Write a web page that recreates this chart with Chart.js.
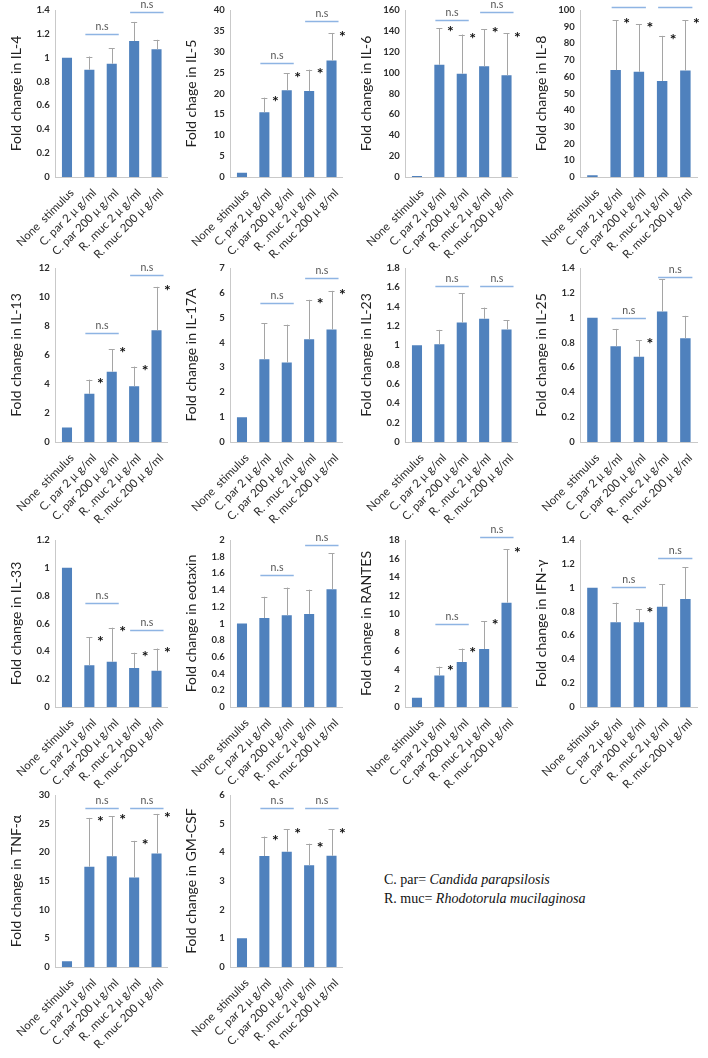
<!DOCTYPE html>
<html>
<head>
<meta charset="utf-8">
<script src="https://cdn.jsdelivr.net/npm/chart.js@4.4.1/dist/chart.umd.min.js"></script>
<style>
  body { margin: 0; background: #fff; }
  #board { position: relative; width: 708px; height: 1058px; }
  #board canvas { position: absolute; }
  .key { position: absolute; left: 384px; top: 870px; font-family: "Liberation Serif", serif; font-size: 14px; line-height: 19px; color: #111; }
</style>
</head>
<body>
<div id="board">
  <div class="key">C. par= <i>Candida parapsilosis</i><br>R. muc= <i>Rhodotorula mucilaginosa</i></div>
</div>
<script>
// x categories shared by every panel
const categories = ['None  stimulus', 'C. par 2 μ g/ml', 'C. par 200 μ g/ml', 'R. .muc 2 μ g/ml', 'R. muc 200 μ g/ml'];

// bar heights (fold change) and tops of the error bars, one pair per cytokine
const il4 = [1, 0.90, 0.95, 1.14, 1.07];
const il4Err = [1, 1.01, 1.08, 1.30, 1.15];
const il5 = [1, 15.5, 20.8, 20.6, 27.9];
const il5Err = [1, 19.0, 24.8, 25.7, 34.5];
const il6 = [1, 107.5, 99, 106, 97.5];
const il6Err = [1, 142.5, 136.5, 141.5, 137.5];
const il8 = [1, 64, 63, 57.5, 63.8];
const il8Err = [1, 94, 91.5, 84.5, 94];
const il13 = [1, 3.32, 4.85, 3.85, 7.7];
const il13Err = [1, 4.3, 6.4, 5.2, 10.7];
const il17a = [1, 3.33, 3.2, 4.13, 4.53];
const il17aErr = [1, 4.77, 4.72, 5.72, 6.08];
const il23 = [1, 1.01, 1.235, 1.275, 1.165];
const il23Err = [1, 1.16, 1.54, 1.39, 1.26];
const il25 = [1, 0.77, 0.685, 1.05, 0.835];
const il25Err = [1, 0.91, 0.82, 1.31, 1.015];
const il33 = [1, 0.30, 0.325, 0.28, 0.26];
const il33Err = [1, 0.50, 0.57, 0.39, 0.42];
const eotaxin = [1, 1.065, 1.10, 1.115, 1.41];
const eotaxinErr = [1, 1.32, 1.43, 1.405, 1.84];
const rantes = [1, 3.4, 4.85, 6.25, 11.25];
const rantesErr = [1, 4.35, 6.3, 9.25, 17.0];
const ifng = [1, 0.71, 0.71, 0.84, 0.905];
const ifngErr = [1, 0.875, 0.82, 1.03, 1.17];
const tnfa = [1, 17.5, 19.3, 15.6, 19.8];
const tnfaErr = [1, 26, 26.3, 22, 26.7];
const gmcsf = [1, 3.87, 4.02, 3.55, 3.88];
const gmcsfErr = [1, 4.55, 4.8, 4.3, 4.8];

// significance stars per bar (1 = "*")
const starsNone = [0, 0, 0, 0, 0];
const starsAll = [0, 1, 1, 1, 1];
const starsC200 = [0, 0, 1, 0, 0];
const starsR = [0, 0, 0, 1, 1];

// height of the "n.s" brackets: [C. par pair, R. muc pair]
const il4Ns = [1.2, 1.38];
const il5Ns = [27.3, 37.4];
const il6Ns = [150, 158];
const il8Ns = [102, 102];
const il13Ns = [7.5, 11.5];
const il17aNs = [5.58, 6.58];
const il23Ns = [1.61, 1.61];
const il25Ns = [1.0, 1.33];
const il33Ns = [0.75, 0.555];
const eotaxinNs = [1.58, 1.94];
const rantesNs = [8.95, 18.3];
const ifngNs = [1.01, 1.245];
const tnfaNs = [27.7, 27.7];
const gmcsfNs = [5.55, 5.55];

// y axis ranges: [max, step]
const il4Axis = [1.4, 0.2];
const il5Axis = [40, 5];
const il6Axis = [160, 20];
const il8Axis = [100, 10];
const il13Axis = [12, 2];
const il17aAxis = [7, 1];
const il23Axis = [1.8, 0.2];
const il25Axis = [1.4, 0.2];
const il33Axis = [1.2, 0.2];
const eotaxinAxis = [2, 0.2];
const rantesAxis = [18, 2];
const ifngAxis = [1.4, 0.2];
const tnfaAxis = [30, 5];
const gmcsfAxis = [6, 1];

const panels = [
  { title: 'Fold change in IL-4', mean: il4, err: il4Err, stars: starsNone, ns: il4Ns, axis: il4Axis, col: 0, row: 0 },
  { title: 'Fold chage in IL-5', mean: il5, err: il5Err, stars: starsAll, ns: il5Ns, axis: il5Axis, col: 1, row: 0 },
  { title: 'Fold change in IL-6', mean: il6, err: il6Err, stars: starsAll, ns: il6Ns, axis: il6Axis, col: 2, row: 0 },
  { title: 'Fold change in IL-8', mean: il8, err: il8Err, stars: starsAll, ns: il8Ns, axis: il8Axis, col: 3, row: 0, nsText: false },
  { title: 'Fold change in IL-13', mean: il13, err: il13Err, stars: starsAll, ns: il13Ns, axis: il13Axis, col: 0, row: 1 },
  { title: 'Fold change in IL-17A', mean: il17a, err: il17aErr, stars: starsR, ns: il17aNs, axis: il17aAxis, col: 1, row: 1 },
  { title: 'Fold change in IL-23', mean: il23, err: il23Err, stars: starsNone, ns: il23Ns, axis: il23Axis, col: 2, row: 1 },
  { title: 'Fold change in IL-25', mean: il25, err: il25Err, stars: starsC200, ns: il25Ns, axis: il25Axis, col: 3, row: 1 },
  { title: 'Fold change in IL-33', mean: il33, err: il33Err, stars: starsAll, ns: il33Ns, axis: il33Axis, col: 0, row: 2 },
  { title: 'Fold change in eotaxin', mean: eotaxin, err: eotaxinErr, stars: starsNone, ns: eotaxinNs, axis: eotaxinAxis, col: 1, row: 2 },
  { title: 'Fold change in RANTES', mean: rantes, err: rantesErr, stars: starsAll, ns: rantesNs, axis: rantesAxis, col: 2, row: 2 },
  { title: 'Fold change in IFN-γ', mean: ifng, err: ifngErr, stars: starsC200, ns: ifngNs, axis: ifngAxis, col: 3, row: 2 },
  { title: 'Fold change in TNF-α', mean: tnfa, err: tnfaErr, stars: starsAll, ns: tnfaNs, axis: tnfaAxis, col: 0, row: 3 },
  { title: 'Fold change in GM-CSF', mean: gmcsf, err: gmcsfErr, stars: starsAll, ns: gmcsfNs, axis: gmcsfAxis, col: 1, row: 3 }
];

// page layout
const colLeft = [0, 175, 350, 525];
const colWidth = [175, 175, 175, 183];
const rowPlotTop = [10, 268, 540, 795];
const rowPlotBottom = [177, 442, 707, 967];
const HEAD = 18, LABELS = 88, YAXIS = 50, PLOT_RIGHT = 172;

const BLUE = '#4f81bd';
const AXIS = '#c9c9c9';
const TEXT = '#2b2b2b';
const FONT = 'Lato, "Liberation Sans", sans-serif';

// error bars, stars and n.s brackets
const marks = {
  id: 'marks',
  afterDatasetsDraw(chart, args, opts) {
    const p = opts.panel;
    const ctx = chart.ctx;
    const y = chart.scales.y;
    const bars = chart.getDatasetMeta(0).data;
    ctx.save();
    bars.forEach((bar, i) => {
      const yt = y.getPixelForValue(p.err[i]);
      if (p.err[i] > p.mean[i]) {
        ctx.strokeStyle = '#a5a5a5';
        ctx.lineWidth = 1;
        ctx.beginPath();
        ctx.moveTo(Math.round(bar.x) + 0.5, bar.y);
        ctx.lineTo(Math.round(bar.x) + 0.5, yt);
        ctx.moveTo(bar.x - 3, Math.round(yt) + 0.5);
        ctx.lineTo(bar.x + 3, Math.round(yt) + 0.5);
        ctx.stroke();
      }
      if (p.stars[i]) {
        ctx.fillStyle = '#111';
        ctx.font = 'bold 16px ' + FONT;
        ctx.textAlign = 'center';
        ctx.textBaseline = 'middle';
        ctx.fillText('*', bar.x + 11, yt + 4);
      }
    });
    [[1, 2], [3, 4]].forEach(([a, b], k) => {
      const v = p.ns[k];
      const yl = Math.round(y.getPixelForValue(v)) + 0.5;
      const x1 = bars[a].x - 4, x2 = bars[b].x + 7;
      ctx.strokeStyle = '#8eb4e3';
      ctx.lineWidth = 1.5;
      ctx.beginPath();
      ctx.moveTo(x1, yl);
      ctx.lineTo(x2, yl);
      ctx.stroke();
      if (p.nsText !== false) {
        ctx.fillStyle = '#555';
        ctx.font = '10.5px ' + FONT;
        ctx.textAlign = 'center';
        ctx.textBaseline = 'bottom';
        ctx.fillText('n.s', (x1 + x2) / 2, yl - 3);
      }
    });
    ctx.restore();
  }
};

const board = document.getElementById('board');
panels.forEach(p => {
  const w = colWidth[p.col];
  const top = rowPlotTop[p.row] - HEAD;
  const h = rowPlotBottom[p.row] - top + LABELS;
  const canvas = document.createElement('canvas');
  canvas.width = w;
  canvas.height = h;
  canvas.style.left = colLeft[p.col] + 'px';
  canvas.style.top = top + 'px';
  board.appendChild(canvas);

  new Chart(canvas, {
    type: 'bar',
    data: {
      labels: categories,
      datasets: [{ data: p.mean, backgroundColor: BLUE, barPercentage: 0.45, categoryPercentage: 1 }]
    },
    options: {
      responsive: false,
      animation: false,
      layout: { padding: { top: HEAD, right: w - PLOT_RIGHT, left: 0, bottom: 0 } },
      plugins: { legend: { display: false }, tooltip: { enabled: false }, marks: { panel: p } },
      scales: {
        x: {
          grid: { display: false, drawTicks: false },
          border: { color: AXIS },
          ticks: { autoSkip: false, minRotation: 45, maxRotation: 45, padding: 9, labelOffset: 5, color: TEXT, font: { family: FONT, size: 11.5 } },
          afterFit: s => { s.height = LABELS; }
        },
        y: {
          min: 0,
          max: p.axis[0],
          grid: { display: false, drawTicks: false },
          border: { color: AXIS },
          ticks: {
            stepSize: p.axis[1], padding: 6, color: TEXT, font: { family: FONT, size: 9.5, weight: 'bold' },
            callback: v => String(Number(v.toFixed(3)))
          },
          title: { display: true, text: p.title, color: '#222', padding: { top: 2, bottom: 0 }, font: { family: FONT, size: 14 } },
          afterFit: s => { s.width = YAXIS; }
        }
      }
    },
    plugins: [marks]
  });
});
</script>
</body>
</html>
